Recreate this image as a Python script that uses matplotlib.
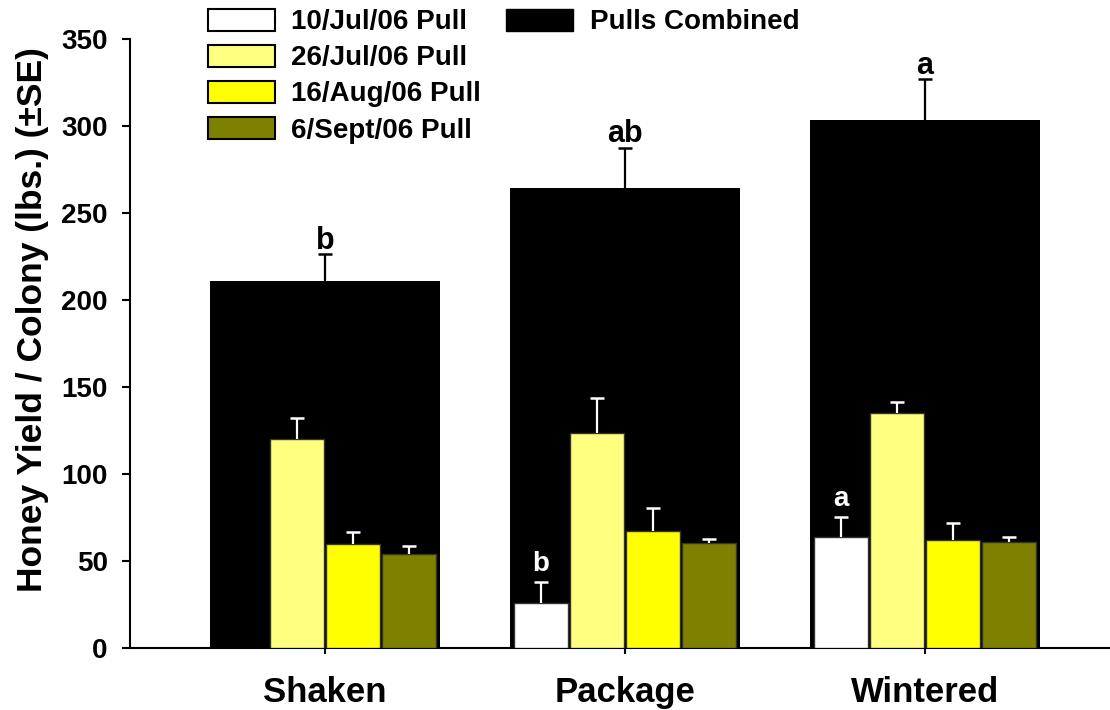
import numpy as np
import matplotlib.pyplot as plt
from matplotlib.patches import Patch

plt.rcParams['font.family'] = ['Liberation Sans', 'DejaVu Sans']
plt.rcParams['font.weight'] = 'bold'

groups = ['Shaken', 'Package', 'Wintered']
pull_labels = ['10/Jul/06 Pull', '26/Jul/06 Pull', '16/Aug/06 Pull', '6/Sept/06 Pull']
pull_colors = ['#FFFFFF', '#FFFF80', '#FFFF00', '#808000']

# wartości
combined = [211, 264.5, 303.5]
combined_se = [15.5, 23, 23.5]
combined_letters = ['b', 'ab', 'a']

pull_jul10 = [np.nan, 26, 64]   # Shaken - brak zbioru
pull_jul10_se = [np.nan, 12, 11.5]
pull_jul26 = [120.2, 123.4, 135.1]
pull_jul26_se = [12, 20, 6.5]
pull_aug16 = [60, 67.3, 62.3]
pull_aug16_se = [6.5, 13.4, 9.6]
pull_sep6 = [53.9, 60.2, 61.1]
pull_sep6_se = [4.6, 2.7, 2.7]
jul10_letters = ['', 'b', 'a']

pulls = [pull_jul10, pull_jul26, pull_aug16, pull_sep6]
pulls_se = [pull_jul10_se, pull_jul26_se, pull_aug16_se, pull_sep6_se]


def gorny_blad(ax, xs, vals, se, kolor, z):
    # tylko górna połowa słupka błędu (+SE)
    vals = np.asarray(vals, dtype=float)
    se = np.asarray(se, dtype=float)
    ok = ~np.isnan(vals) & ~np.isnan(se)
    xs = np.asarray(xs)[ok]
    ax.vlines(xs, vals[ok], vals[ok] + se[ok], colors=kolor, linewidth=1.6, zorder=z)
    ax.plot(xs, vals[ok] + se[ok], linestyle='none', marker='_', markersize=10,
            markeredgewidth=1.8, color=kolor, zorder=z)


fig = plt.figure(figsize=(11.1, 7.1), dpi=100)
ax = fig.add_axes([0.117, 0.0873, 0.883, 0.858])

x = np.arange(len(groups))

# duże czarne słupki (suma)
ax.bar(x, combined, width=0.767, color='black', zorder=1)
gorny_blad(ax, x, combined, combined_se, 'black', 2)
for xi, v, e, t in zip(x, combined, combined_se, combined_letters):
    ax.text(xi, v + e + 3, t, ha='center', va='baseline', fontsize=22, fontweight='bold', color='black')

offsets = [-0.28, -0.093, 0.093, 0.28]
for vals, se, off, col in zip(pulls, pulls_se, offsets, pull_colors):
    ax.bar(x + off, vals, width=0.18, color=col, edgecolor='#333333', linewidth=1, zorder=3)
    gorny_blad(ax, x + off, vals, se, 'white', 4)

for xi, v, e, t in zip(x, pull_jul10, pull_jul10_se, jul10_letters):
    if t:
        ax.text(xi + offsets[0], v + e + 6, t, ha='center', va='baseline', fontsize=20,
                fontweight='bold', color='white', zorder=5)

ax.set_xlim(-0.65, 2.617)
ax.set_ylim(0, 350)
ax.set_yticks(range(0, 351, 50))
ax.set_xticks(x)
ax.set_xticklabels(groups, fontsize=25, fontweight='bold')
ax.tick_params(axis='y', labelsize=20, direction='out', length=6, width=1.5, pad=10)
ax.tick_params(axis='x', direction='out', length=4, width=1.5, pad=16)
for s in ['top', 'right']:
    ax.spines[s].set_visible(False)
for s in ['left', 'bottom']:
    ax.spines[s].set_linewidth(1.5)

ax.set_ylabel('Honey Yield / Colony (lbs.) (±SE)', fontsize=25.5, fontweight='bold')
ax.yaxis.set_label_coords(-0.083, 0.539)

handles = [Patch(facecolor=c, edgecolor='black', linewidth=1.5) for c in pull_colors]
handles += [Patch(facecolor='black', edgecolor='black')]
labels = pull_labels + ['Pulls Combined']
for i in range(3):
    handles.append(Patch(alpha=0))
    labels.append('')
ax.legend(handles, labels, ncol=2, loc='upper left', bbox_to_anchor=(0.1874, 0.988),
          bbox_transform=fig.transFigure, frameon=False, fontsize=20, borderpad=0,
          borderaxespad=0, handlelength=2.4, handleheight=0.85, handletextpad=0.6,
          labelspacing=0.34, columnspacing=0.9)

fig.savefig('out.png', dpi=100)
